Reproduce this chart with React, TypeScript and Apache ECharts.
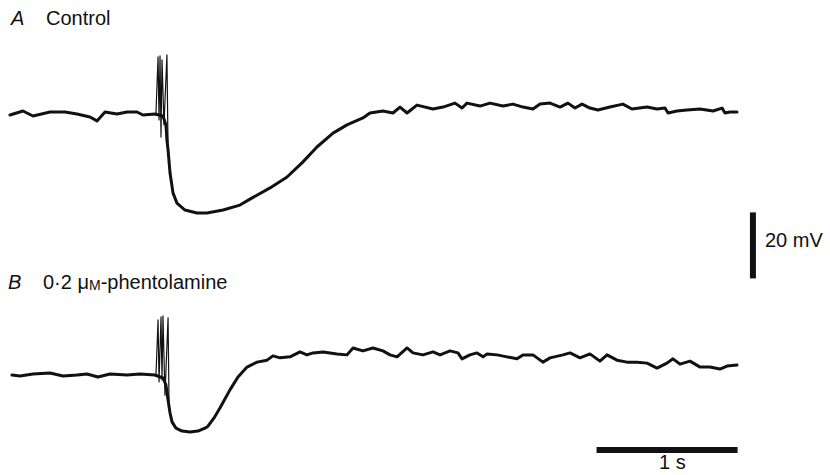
import React, { useEffect, useRef } from "react";
import * as echarts from "echarts";

// Panel A: control trace (time in ms, membrane potential in mV relative to rest)
const controlTimeMs = [0, 92, 163, 284, 390, 475, 567, 617, 674, 759, 830, 901, 943, 1028, 1085, 1106, 1113, 1121, 1135, 1156, 1184, 1241, 1326, 1397, 1511, 1631, 1702, 1844, 1965, 2078, 2177, 2291, 2390, 2503, 2553, 2645, 2716, 2766, 2816, 2886, 3000, 3071, 3156, 3206, 3241, 3333, 3404, 3496, 3567, 3638, 3709, 3759, 3830, 3901, 3957, 4007, 4057, 4113, 4170, 4255, 4347, 4411, 4518, 4589, 4645, 4667, 4730, 4801, 4894, 4986, 5050, 5071, 5106, 5156];
const controlMv = [-0.3, 0.9, -0.6, 0.6, 0.6, 0, -0.9, -2.1, 0.6, 0, 0.6, 0.6, -0.3, 0, -0.6, -3.3, -7.9, -10.9, -17.9, -23.9, -27.0, -29.1, -30.0, -30.0, -29.1, -27.6, -25.8, -22.4, -19.1, -14.5, -10.0, -5.8, -3.3, -1.2, 0.3, 0.9, 0.3, 2.1, 0.3, 2.7, 1.5, 2.1, 3.3, 1.8, 3.3, 2.4, 3.3, 2.4, 3.0, 2.1, 1.5, 3.0, 3.3, 2.1, 3.3, 1.8, 3.0, 1.8, 1.2, 2.1, 3.0, 1.5, 2.1, 1.5, 1.8, 0.3, 0.9, 1.2, 1.5, 0.9, 1.8, 0.3, 0.6, 0.6];
const controlSpikeTimeMs = [1035, 1050, 1057, 1064, 1071, 1078, 1092, 1113, 1121];
const controlSpikeMv = [0, 17.3, -1.8, 17.6, -7.0, 16.4, -3.3, 17.9, -10.9];

// Panel B: 0.2 uM phentolamine trace
const phentTimeMs = [14, 71, 163, 284, 376, 475, 546, 624, 709, 830, 922, 1028, 1085, 1106, 1121, 1135, 1149, 1177, 1220, 1277, 1333, 1383, 1404, 1447, 1489, 1560, 1617, 1681, 1752, 1823, 1865, 1915, 1986, 2057, 2106, 2149, 2220, 2319, 2390, 2433, 2503, 2574, 2645, 2695, 2745, 2816, 2858, 2929, 3000, 3050, 3121, 3177, 3206, 3262, 3312, 3355, 3383, 3454, 3525, 3596, 3638, 3709, 3780, 3830, 3922, 3972, 4043, 4113, 4184, 4234, 4305, 4376, 4447, 4518, 4589, 4659, 4702, 4752, 4823, 4894, 4964, 5035, 5085, 5156];
const phentMv = [0.3, 0, 0.6, 0.9, 0, 0.3, 0.6, -0.3, 0.6, 0.3, 0.6, 0.3, -0.6, -2.7, -7.3, -11.2, -13.9, -15.8, -16.7, -17.0, -16.7, -15.8, -15.2, -12.7, -9.7, -4.2, -0.3, 2.7, 4.2, 4.8, 6.1, 5.5, 5.8, 7.3, 6.4, 7.0, 7.3, 6.7, 6.4, 8.5, 7.6, 8.5, 7.6, 6.4, 5.8, 8.5, 7.0, 6.4, 7.3, 6.4, 7.6, 7.0, 5.2, 6.4, 7.0, 5.8, 6.7, 6.4, 5.8, 5.2, 6.4, 6.4, 4.2, 5.5, 6.4, 7.0, 5.5, 6.7, 4.5, 6.4, 4.8, 4.2, 4.2, 3.9, 2.4, 3.9, 5.2, 3.6, 4.5, 2.7, 2.7, 2.1, 3.0, 3.3];
const phentSpikeTimeMs = [1035, 1050, 1057, 1071, 1078, 1085, 1099, 1121, 1128];
const phentSpikeMv = [0, 17.0, -1.8, 17.9, -1.2, 18.2, -5.8, 17.6, -8.8];

// Scale bars
const timeBarMs = [4160, 5160]; // 1 s
const timeBarLevelMv = [0, 0];
const voltBarTimeMs = [5269, 5269];
const voltBarMv = [52, 72]; // 20 mV

const panelLetters = ["A", "B"];
const panelTitles = ["Control", "0·2 μ{sc|M}-phentolamine"];
const voltBarLabel = "20 mV";
const timeBarLabel = "1 s";

const zip = (xs: number[], ys: number[]) => xs.map((x, i) => [x, ys[i]]);

const INK = "#111111";
const FONT = "'Liberation Sans', Arial, sans-serif";

export default function App() {
  const ref = useRef<HTMLDivElement>(null);

  useEffect(() => {
    if (!ref.current) return;
    const chart = echarts.init(ref.current, undefined, { renderer: "svg" });
    const gridLeft = 10;
    const gridWidth = 747.3;
    const xAx = (gridIndex: number) => ({
      type: "value" as const,
      gridIndex,
      min: 0,
      max: 5300,
      show: false,
      splitLine: { show: false },
    });
    const yAx = (gridIndex: number, min: number, max: number) => ({
      type: "value" as const,
      gridIndex,
      min,
      max,
      show: false,
      splitLine: { show: false },
    });
    const trace = (data: number[][], idx: number, width: number) => ({
      type: "line" as const,
      xAxisIndex: idx,
      yAxisIndex: idx,
      data,
      showSymbol: false,
      symbol: "none",
      lineStyle: { color: INK, width, join: "round", cap: "round" },
      silent: true,
    });
    const label = (text: string, x: number, y: number, italic = false, extra: any = {}) => ({
      type: "text",
      x,
      y,
      style: {
        text,
        font: `${italic ? "italic " : ""}20px ${FONT}`,
        fill: INK,
        verticalAlign: "middle",
        textAlign: "left",
        ...extra,
      },
    });

    chart.setOption({
      animation: false,
      backgroundColor: "#ffffff",
      grid: [
        { left: gridLeft, width: gridWidth, top: 31.5, height: 214.5 },
        { left: gridLeft, width: gridWidth, top: 293.5, height: 148.5 },
        { left: gridLeft, width: gridWidth, top: 186, height: 264 },
      ],
      xAxis: [xAx(0), xAx(1), xAx(2)],
      yAxis: [yAx(0, -40, 25), yAx(1, -20, 25), yAx(2, 0, 80)],
      series: [
        trace(zip(controlTimeMs, controlMv), 0, 3),
        trace(zip(controlSpikeTimeMs, controlSpikeMv), 0, 1.2),
        trace(zip(phentTimeMs, phentMv), 1, 3),
        trace(zip(phentSpikeTimeMs, phentSpikeMv), 1, 1.2),
        { ...trace(zip(timeBarMs, timeBarLevelMv), 2, 6), lineStyle: { color: INK, width: 6, cap: "butt" } },
        { ...trace(zip(voltBarTimeMs, voltBarMv), 2, 6), lineStyle: { color: INK, width: 6, cap: "butt" } },
      ],
      graphic: [
        label(panelLetters[0], 11, 18, true),
        label(panelTitles[0], 46, 18),
        label(panelLetters[1], 8, 282, true),
        label(panelTitles[1], 43, 282, false, {
          rich: { sc: { fontSize: 14, fontFamily: FONT, fill: INK, verticalAlign: "bottom" } },
        }),
        label(voltBarLabel, 765, 240),
        label(timeBarLabel, 659, 462),
      ],
    });
    return () => chart.dispose();
  }, []);

  return (
    <div
      ref={ref}
      style={{ position: "fixed", left: 0, top: 0, width: 830, height: 475, background: "#fff" }}
    />
  );
}
